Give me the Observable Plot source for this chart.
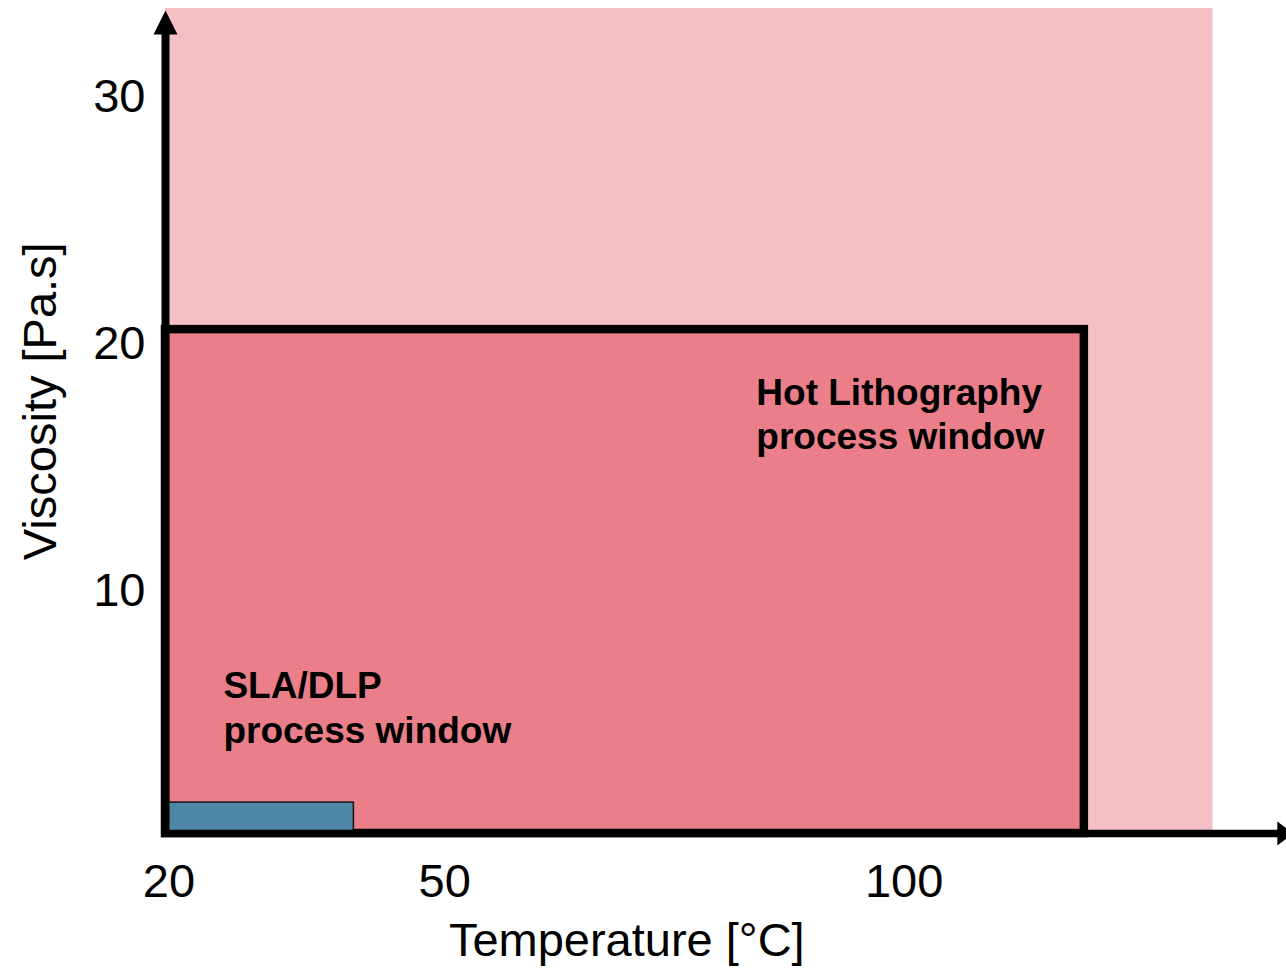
<!DOCTYPE html>
<html>
<head>
<meta charset="utf-8">
<script src="https://cdn.jsdelivr.net/npm/d3@7"></script>
<script src="https://cdn.jsdelivr.net/npm/@observablehq/plot@0.6"></script>
<style>
  html, body { margin: 0; padding: 0; background: #fff; }
  #chart svg { display: block; overflow: visible; }
</style>
</head>
<body>
<div id="chart"></div>
<script>
// ---- data ----
const tempTicks = [20, 50, 100];
const viscTicks = [10, 20, 30];
const xAxisTitle = "Temperature [°C]";
const yAxisTitle = "Viscosity [Pa.s]";

// overall (background) region
const regionTMin = [20];
const regionTMax = [134];
const regionVMin = [0];
const regionVMax = [33.4];

// process windows
const windowNames = ["Hot Lithography", "SLA/DLP"];
const windowTMin = [20, 20];
const windowTMax = [120, 40.5];
const windowVMin = [0, 0];
const windowVMax = [20.4, 1.25];
const windowColors = ["#eb7f89", "#4f87a8"];
const windowLabelT = [84.3, 26.3];
const windowLabelV = [15.55, 3.68];

// axis extents
const axisTMax = [141.0];
const axisVMax = [32.35];

// ---- tables ----
const region = regionTMin.map((d, i) => ({x1: d, x2: regionTMax[i], y1: regionVMin[i], y2: regionVMax[i]}));
const windows = windowNames.map((n, i) => ({
  name: n, x1: windowTMin[i], x2: windowTMax[i], y1: windowVMin[i], y2: windowVMax[i],
  color: windowColors[i], lx: windowLabelT[i], ly: windowLabelV[i],
  label: n + "\nprocess window"
}));
const hot = windows.filter(d => d.name === "Hot Lithography");
const sla = windows.filter(d => d.name === "SLA/DLP");

const font = "'Liberation Sans', Arial, Helvetica, sans-serif";

const chart = Plot.plot({
  width: 1286,
  height: 968,
  marginLeft: 165,
  marginRight: 0,
  marginTop: 8,
  marginBottom: 135,
  style: {fontFamily: font, background: "#fff", overflow: "visible"},
  x: {domain: [20, 142], axis: null},
  y: {domain: [0, 33.4], axis: null},
  marks: [
    Plot.rect(region, {x1: "x1", x2: "x2", y1: "y1", y2: "y2", fill: "#f4c0c5"}),
    Plot.rect(hot, {x1: "x1", x2: "x2", y1: "y1", y2: "y2", fill: "color", stroke: "#000", strokeWidth: 8.5}),
    Plot.rect(sla, {x1: "x1", x2: "x2", y1: "y1", y2: "y2", fill: "color", stroke: "#1a1a1a", strokeWidth: 1.6}),
    // axes lines
    Plot.ruleY([0], {x1: 20, x2: axisTMax[0], stroke: "#000", strokeWidth: 7.5, strokeLinecap: "square"}),
    Plot.ruleX([20], {y1: 0, y2: axisVMax[0], stroke: "#000", strokeWidth: 8, strokeLinecap: "square"}),
    // arrow heads
    Plot.vector([{x: 20, y: axisVMax[0]}], {x: "x", y: "y", shape: "spike", anchor: "start", length: 24, r: 12, rotate: 0, fill: "#000", stroke: "none"}),
    Plot.vector([{x: axisTMax[0], y: 0}], {x: "x", y: "y", shape: "spike", anchor: "start", length: 16, r: 12, rotate: 90, fill: "#000", stroke: "none"}),
    // tick labels
    Plot.text(tempTicks, {x: d => d, y: 0, text: d => String(d), fontSize: 47, fill: "#000", lineAnchor: "bottom", textAnchor: "middle", dy: 63.5, dx: 3.5}),
    Plot.text(viscTicks, {x: 20, y: d => d, text: d => String(d), fontSize: 47, fill: "#000", lineAnchor: "bottom", textAnchor: "end", dy: 20, dx: -20}),
    // axis titles
    Plot.text([xAxisTitle], {x: 70.2, y: 0, text: d => d, fontSize: 47, fill: "#000", lineAnchor: "bottom", textAnchor: "middle", dy: 122}),
    Plot.text([yAxisTitle], {x: 20, y: 17.5, text: d => d, fontSize: 47, fill: "#000", lineAnchor: "bottom", textAnchor: "middle", rotate: -90, dx: -110}),
    // window annotations
    Plot.text(windows, {x: "lx", y: "ly", text: "label", fontSize: 37, fontWeight: "bold", fill: "#000", textAnchor: "start", lineAnchor: "bottom", lineHeight: 1.2})
  ]
});
document.getElementById("chart").appendChild(chart);
</script>
</body>
</html>
